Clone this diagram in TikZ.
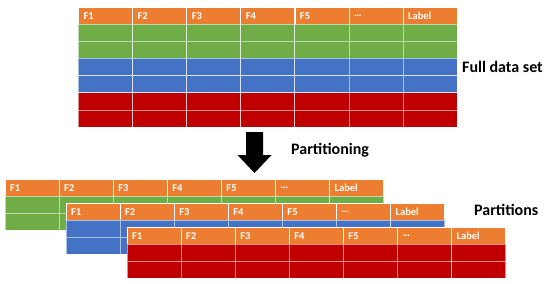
\documentclass[tikz,border=0pt]{standalone}
\usepackage{fontspec}
\setmainfont{Carlito}
\usetikzlibrary{positioning}
\definecolor{hdrorange}{HTML}{ED7D31}
\definecolor{partgreen}{HTML}{70AD47}
\definecolor{partblue}{HTML}{4472C4}
\definecolor{partred}{HTML}{C00000}
% table: name, left, top, colours of the rows
\newcommand{\datatable}[4]{
  \foreach \lab [count=\c from 0] in {F1,F2,F3,F4,F5,\dots,Label}
    \node[headcell] (#1-h\c) at (#2+\c*54.1,#3) {\lab};
  \foreach \col [count=\r from 0] in {#4}
    \foreach \c in {0,...,6}
      \node[rowcell, fill=\col] (#1-\r-\c) at (#2+\c*54.1,#3+16.5+\r*17.2) {};
}
\begin{document}
\begin{tikzpicture}[x=1pt, y=-1pt,
  headcell/.style={anchor=north west, fill=hdrorange, draw=white, line width=1.1pt, minimum width=54.1pt, minimum height=16.5pt, inner xsep=5pt, inner ysep=0pt, text width=44.1pt, align=left, text=white, font=\bfseries\fontsize{10.5}{11}\selectfont},
  rowcell/.style={anchor=north west, draw=white, draw opacity=0.55, line width=0.8pt, minimum width=54.1pt, minimum height=17.2pt, inner sep=0pt},
  caption/.style={anchor=west, inner sep=0pt, font=\bfseries\fontsize{16}{18}\selectfont}]
\useasboundingbox (0,0) rectangle (550,284);
\datatable{full}{78}{7}{partgreen,partgreen,partblue,partblue,partred,partred}
\node[caption] (fulltxt) at (462,67) {Full data set};
% partitioning arrow
\coordinate (arr) at (254.5,132);
\fill (arr) ++(-8.5,0) -- ++(17,0) -- ++(0,23) -- ++(8.5,0) -- ++(-17,18) -- ++(-17,-18) -- ++(8.5,0) -- cycle;
\node[caption] (parttxt) at (291,150) {Partitioning};
\datatable{green}{4.5}{179}{partgreen,partgreen}
\datatable{blue}{65.5}{203}{partblue,partblue}
\datatable{red}{126.5}{227}{partred,partred}
\node[caption] (partstxt) at (474,210) {Partitions};
\end{tikzpicture}
\end{document}
